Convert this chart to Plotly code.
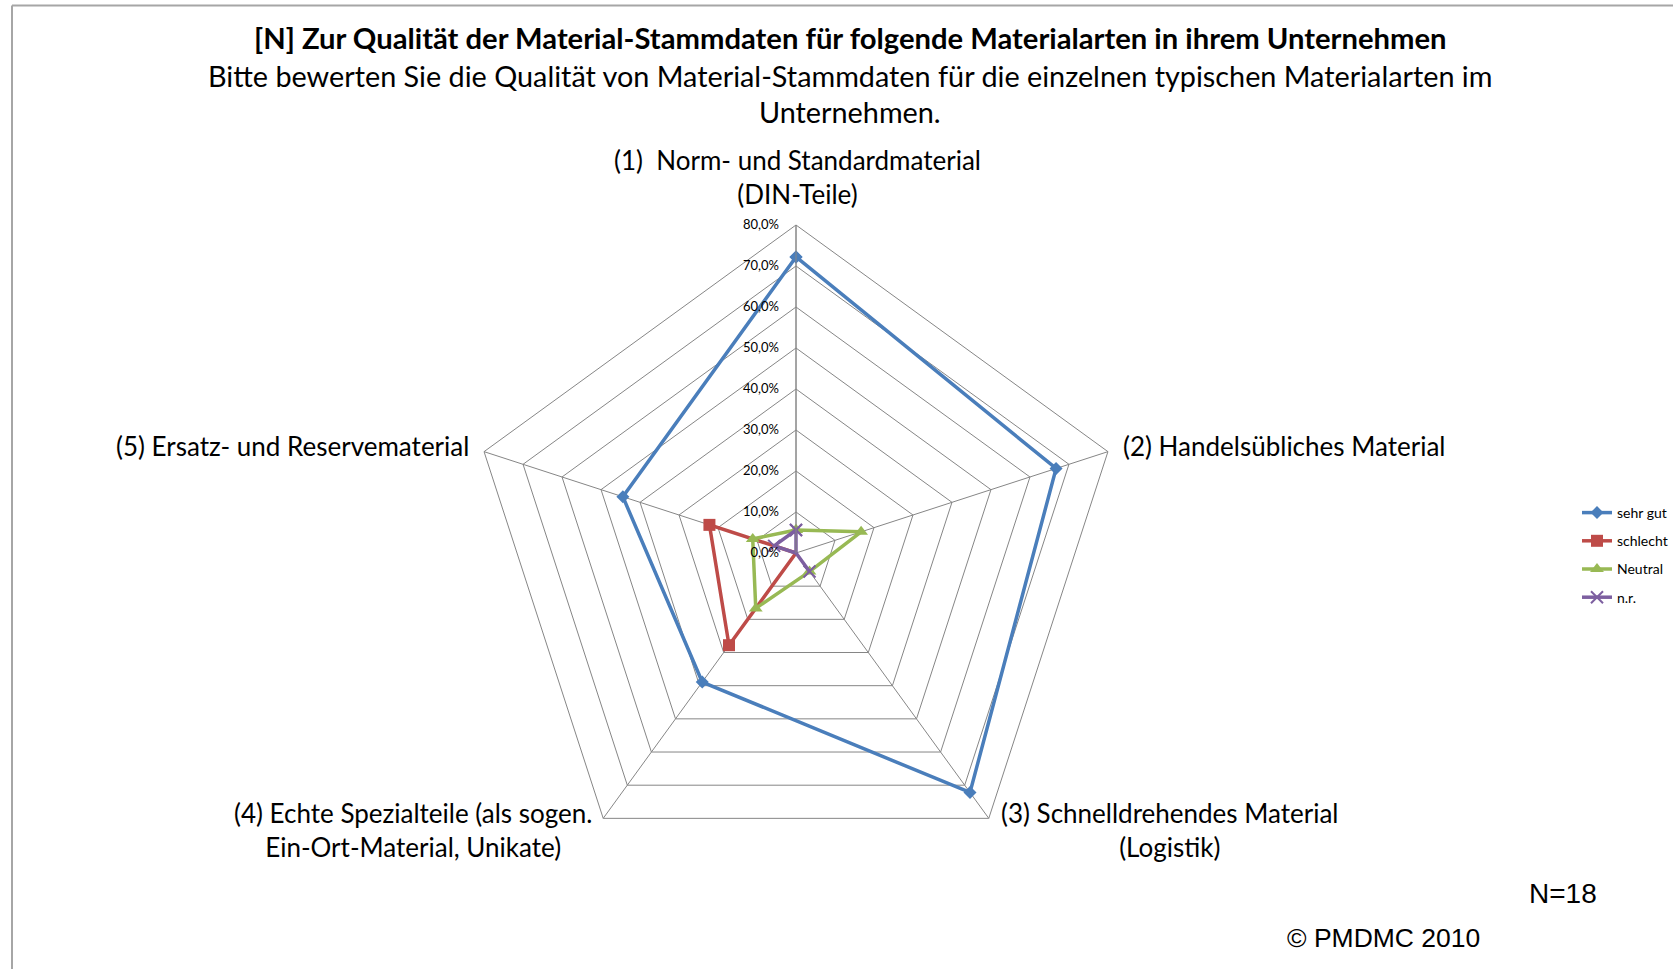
import plotly.graph_objects as go

W, H = 1673, 969

# ---------------- data ----------------
categories = [
    "(1)  Norm- und Standardmaterial\n(DIN-Teile)",
    "(2) Handelsübliches Material",
    "(3) Schnelldrehendes Material\n(Logistik)",
    "(4) Echte Spezialteile (als sogen.\nEin-Ort-Material, Unikate)",
    "(5) Ersatz- und Reservematerial",
]
series_names = ["sehr gut", "schlecht", "Neutral", "n.r."]
sehr_gut = [72.2, 66.7, 72.2, 38.9, 44.4]
schlecht = [0.0, 0.0, 0.0, 27.8, 22.2]
neutral = [5.6, 16.7, 5.6, 16.7, 11.1]
nr = [5.6, 0.0, 5.6, 0.0, 5.6]
radial_range = [0, 80]
radial_step = 10

title_text = "[N] Zur Qualität der Material-Stammdaten für folgende Materialarten in ihrem Unternehmen"
subtitle_lines = [
    "Bitte bewerten Sie die Qualität von Material-Stammdaten für die einzelnen typischen Materialarten im",
    "Unternehmen.",
]
n_text = "N=18"
copyright_text = "© PMDMC 2010"

# ---------------- styles ----------------
colors = ["#4A7EBB", "#BE4B48", "#98B954", "#7D5FA0"]
symbols = ["diamond", "square", "triangle-up", "x-thin"]
msizes = [10, 12, 12, 12]
FONT = "Lato"
grid_col = "#868686"


def px(x):
    return x / W


def py(y):
    return 1 - y / H


fig = go.Figure()
series = [sehr_gut, schlecht, neutral, nr]
for i, (name, vals) in enumerate(zip(series_names, series)):
    r = [v / 100 for v in vals] + [vals[0] / 100]
    th = categories + [categories[0]]
    marker = dict(symbol=symbols[i], size=msizes[i], color=colors[i])
    if symbols[i] == "x-thin":
        marker["line"] = dict(color=colors[i], width=2)
    fig.add_trace(go.Scatterpolar(
        r=r, theta=th, name=name, mode="lines+markers",
        line=dict(color=colors[i], width=3.5),
        marker=marker, legendgroup=name,
    ))

# polar geometry (center ~ (796,553), radius ~328 px)
cx, cy, R = 796, 553, 328
fig.update_layout(
    polar=dict(
        domain=dict(x=[px(cx - R), px(cx + R)], y=[py(cy + R), py(cy - R)]),
        gridshape="linear",
        bgcolor="white",
        angularaxis=dict(
            direction="clockwise", rotation=90,
            showticklabels=False, ticks="",
            showline=True, linecolor=grid_col, linewidth=1,
            showgrid=True, gridcolor=grid_col, gridwidth=1,
        ),
        radialaxis=dict(
            range=[radial_range[0] / 100, radial_range[1] / 100],
            dtick=radial_step / 100, tick0=0,
            tickformat=".1%", angle=90, side="counterclockwise",
            showline=True, linecolor=grid_col, linewidth=1,
            showgrid=True, gridcolor=grid_col, gridwidth=1,
            ticks="outside", ticklen=12, tickcolor="rgba(0,0,0,0)",
            tickfont=dict(family=FONT, size=13, color="black"),
            tickangle=90,
        ),
    ),
)

annotations = []
# title + subtitle
annotations.append(dict(text="<b>" + title_text + "</b>", x=px(850), y=py(37),
                        xref="paper", yref="paper", showarrow=False,
                        xanchor="center", yanchor="middle",
                        font=dict(family=FONT, size=29.2, color="black")))
for j, (line, yy) in enumerate(zip(subtitle_lines, [76, 112])):
    annotations.append(dict(text=line, x=px(850), y=py(yy),
                            xref="paper", yref="paper", showarrow=False,
                            xanchor="center", yanchor="middle",
                            font=dict(family=FONT, size=28.8, color="black")))

# category labels (positions of label blocks, pixel coordinates)
label_pos = [
    (797, [160, 193], "center"),
    (1121, [446], "left"),
    (999, [813, 846], "left"),
    (594, [813, 846], "right"),
    (471, [446], "right"),
]
for cat, (x0, ys, anchor) in zip(categories, label_pos):
    lines = cat.split("\n")
    txt = "<br>".join(lines)
    annotations.append(dict(text=txt, x=px(x0), y=py(sum(ys) / len(ys)), xref="paper", yref="paper",
                            showarrow=False, xanchor=anchor, yanchor="middle", align="center",
                            font=dict(family=FONT, size=26, color="black")))

annotations.append(dict(text=n_text, x=px(1563), y=py(893), xref="paper", yref="paper",
                        showarrow=False, xanchor="center", yanchor="middle",
                        font=dict(family="Liberation Sans", size=28, color="black")))
annotations.append(dict(text=copyright_text, x=px(1383), y=py(938), xref="paper", yref="paper",
                        showarrow=False, xanchor="center", yanchor="middle",
                        font=dict(family="Liberation Sans", size=26.5, color="black")))

shapes = [
    dict(type="line", xref="paper", yref="paper", x0=px(12), x1=1.0, y0=py(5.5), y1=py(5.5),
         line=dict(color="#A6A6A6", width=2)),
    dict(type="line", xref="paper", yref="paper", x0=px(12), x1=px(12), y0=py(5.5), y1=0,
         line=dict(color="#A6A6A6", width=2)),
]

fig.update_layout(
    width=W, height=H,
    margin=dict(l=0, r=0, t=0, b=0),
    paper_bgcolor="white", plot_bgcolor="white",
    separators=",.",
    annotations=annotations, shapes=shapes,
    showlegend=True,
    legend=dict(x=1.0, y=py(497), xanchor="right", yanchor="top",
                font=dict(family=FONT, size=14, color="black"),
                tracegroupgap=7, itemwidth=30, bgcolor="rgba(0,0,0,0)"),
    font=dict(family=FONT),
)

fig.write_html("out.html", config={"displayModeBar": False},
               post_script="document.body.style.margin='0px';")
